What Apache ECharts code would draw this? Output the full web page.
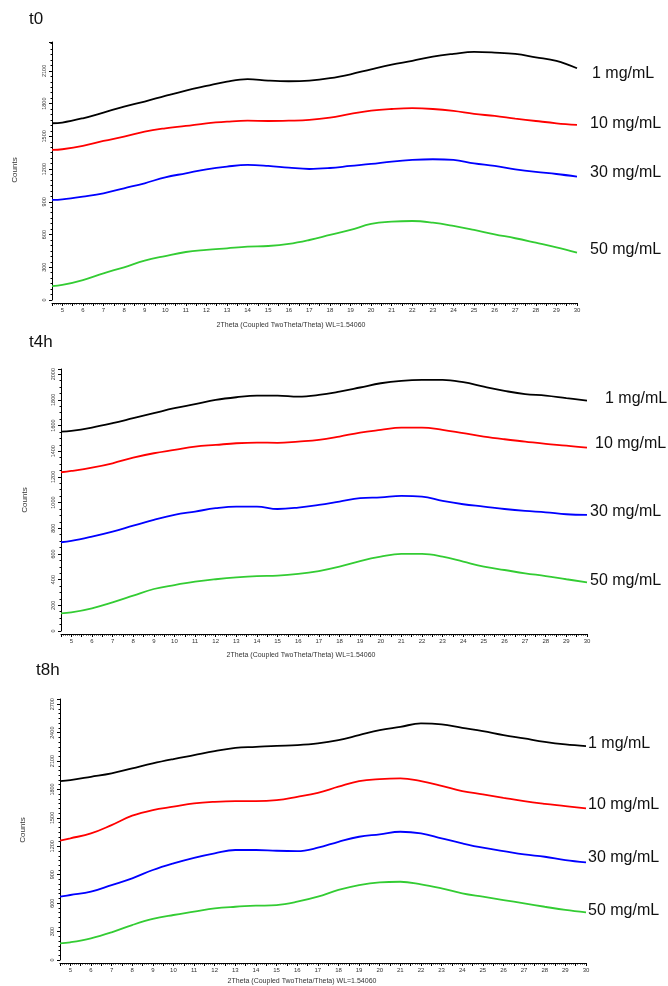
<!DOCTYPE html>
<html><head><meta charset="utf-8">
<script src="https://cdn.jsdelivr.net/npm/echarts@6/dist/echarts.min.js"></script>
<style>html,body{margin:0;padding:0;background:#fff}#c{width:668px;height:986px}</style>
</head><body><div id="c"></div>
<script>
// ---- data ----
const twoTheta = [4.5,5,6,7,8,9,10,11,12,13,14,15,16,17,18,19,20,21,22,23,24,25,26,27,28,29,30];
const seriesNames = ['1 mg/mL','10 mg/mL','30 mg/mL','50 mg/mL'];
const panelTitles = ['t0','t4h','t8h'];
const xAxisTitle = '2Theta (Coupled TwoTheta/Theta) WL=1.54060';
const yAxisTitle = 'Counts';
const xTickLabels = [5,6,7,8,9,10,11,12,13,14,15,16,17,18,19,20,21,22,23,24,25,26,27,28,29,30];

const t0_1  = [1620,1626,1666,1718,1773,1819,1871,1920,1962,2002,2024,2011,2005,2011,2033,2069,2115,2158,2192,2231,2256,2274,2268,2256,2225,2192,2124];
const t0_10 = [1376,1382,1412,1458,1498,1544,1574,1596,1620,1635,1644,1641,1644,1651,1672,1706,1736,1751,1758,1751,1733,1706,1687,1663,1641,1620,1605];
const t0_30 = [917,923,948,978,1024,1070,1125,1161,1198,1223,1238,1229,1213,1201,1210,1229,1247,1269,1284,1290,1284,1253,1229,1198,1174,1155,1131];
const t0_50 = [128,138,183,245,300,361,403,440,459,474,489,495,514,550,596,642,697,718,724,709,679,642,602,566,525,483,434];

const t4h_1  = [1553,1558,1584,1618,1657,1696,1735,1766,1799,1820,1833,1833,1825,1838,1864,1896,1929,1948,1955,1955,1937,1903,1870,1844,1833,1813,1794];
const t4h_10 = [1236,1246,1272,1306,1350,1384,1410,1436,1449,1462,1467,1465,1475,1488,1514,1545,1566,1584,1584,1566,1540,1514,1493,1475,1457,1444,1428];
const t4h_30 = [691,701,735,774,820,865,904,930,956,969,969,950,961,982,1008,1034,1041,1052,1046,1013,987,969,950,935,924,909,904];
const t4h_50 = [138,145,177,223,275,327,358,384,403,418,428,431,444,467,501,545,579,600,600,579,540,501,475,449,428,403,379];

const t8h_1  = [1888,1899,1934,1970,2022,2075,2121,2163,2205,2240,2250,2261,2268,2286,2321,2374,2427,2461,2497,2487,2451,2416,2374,2339,2303,2276,2258];
const t8h_10 = [1259,1284,1336,1424,1523,1583,1618,1653,1670,1677,1677,1688,1723,1765,1829,1888,1910,1917,1888,1839,1783,1748,1712,1677,1649,1625,1600];
const t8h_30 = [668,686,721,791,862,950,1020,1079,1126,1161,1161,1153,1150,1185,1248,1301,1326,1354,1337,1284,1231,1185,1150,1115,1090,1055,1031];
const t8h_50 = [176,187,229,292,369,433,475,510,545,562,573,580,615,668,739,791,820,826,799,756,704,668,633,598,562,528,503];

const panels = [
  {title: panelTitles[0], data: [t0_1, t0_10, t0_30, t0_50]},
  {title: panelTitles[1], data: [t4h_1, t4h_10, t4h_30, t4h_50]},
  {title: panelTitles[2], data: [t8h_1, t8h_10, t8h_30, t8h_50]}
];

// ---- layout / style ----
const colors = ['#000000', '#ff0000', '#0000ff', '#33cc33'];
const FONT = 'Liberation Sans, Arial, sans-serif';
const layout = [
  {left: 52, top: 42, width: 525, height: 258, yMax: 2365, yInt: 300, ySplit: 6,
   titleX: 29, titleY: 21, countsX: 15, countsY: 170, xTitleX: 291, xTitleY: 325,
   labels: [[592,75],[590,125],[590,174],[590,251]]},
  {left: 61, top: 369, width: 526, height: 262, yMax: 2040, yInt: 200, ySplit: 4,
   titleX: 29, titleY: 344, countsX: 25, countsY: 500, xTitleX: 301, xTitleY: 655,
   labels: [[605,400],[595,445],[590,513],[590,582]]},
  {left: 60, top: 699, width: 526, height: 261, yMax: 2755, yInt: 300, ySplit: 6,
   titleX: 36, titleY: 672, countsX: 23, countsY: 830, xTitleX: 302, xTitleY: 981,
   labels: [[588,745],[588,806],[588,859],[588,912]]}
];

const grid = [], xAxis = [], yAxis = [], series = [], graphic = [];
panels.forEach((p, i) => {
  const L = layout[i];
  grid.push({left: L.left, top: L.top, width: L.width, height: L.height, containLabel: false});
  xAxis.push({
    type: 'value', gridIndex: i, min: 4.5, max: 30, interval: 0.5, offset: 3,
    axisLine: {show: true, onZero: false, lineStyle: {color: '#000', width: 1}},
    axisTick: {show: true, length: 3, lineStyle: {color: '#000'}},
    minorTick: {show: true, splitNumber: 5, length: 1.5, lineStyle: {color: '#000'}},
    splitLine: {show: false},
    axisLabel: {fontSize: 6, color: '#333', margin: 4, fontFamily: FONT,
      formatter: v => (xTickLabels.indexOf(Math.round(v*10)/10) >= 0 ? String(Math.round(v)) : '')}
  });
  yAxis.push({
    type: 'value', gridIndex: i, min: 0, max: L.yMax, interval: L.yInt,
    axisLine: {show: true, lineStyle: {color: '#000', width: 1}},
    axisTick: {show: true, length: 3, lineStyle: {color: '#000'}},
    minorTick: {show: true, splitNumber: L.ySplit, length: 1.5, lineStyle: {color: '#000'}},
    splitLine: {show: false},
    axisLabel: {fontSize: 5.5, color: '#333', rotate: 90, margin: 5, fontFamily: FONT,
      showMaxLabel: false, formatter: v => String(v)}
  });
  p.data.forEach((vals, k) => {
    series.push({
      type: 'line', name: seriesNames[k], xAxisIndex: i, yAxisIndex: i,
      data: twoTheta.map((x, j) => [x, vals[j]]),
      showSymbol: false, symbol: 'none', smooth: 0.4,
      lineStyle: {color: colors[k], width: 1.8}, color: colors[k]
    });
    graphic.push({type: 'text', left: L.labels[k][0], top: L.labels[k][1] - 9,
      style: {text: seriesNames[k], fill: '#111', font: '16px ' + FONT}});
  });
  graphic.push({type: 'text', left: L.titleX, top: L.titleY - 10,
    style: {text: p.title, fill: '#111', font: '17px ' + FONT}});
  graphic.push({type: 'text', x: L.countsX, y: L.countsY, rotation: Math.PI / 2,
    style: {text: yAxisTitle, fill: '#333', font: '8px ' + FONT, align: 'center', verticalAlign: 'middle'}});
  graphic.push({type: 'text', x: L.xTitleX, y: L.xTitleY,
    style: {text: xAxisTitle, fill: '#333', font: '7px ' + FONT, align: 'center', verticalAlign: 'middle'}});
});

const chart = echarts.init(document.getElementById('c'), null, {renderer: 'canvas'});
chart.setOption({animation: false, backgroundColor: '#fff', grid, xAxis, yAxis, series, graphic});
</script></body></html>
